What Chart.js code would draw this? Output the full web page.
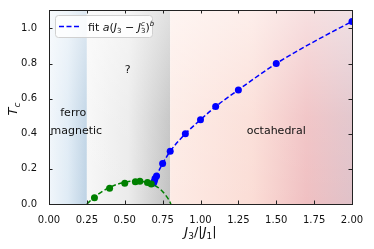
<!DOCTYPE html>
<html>
<head>
<meta charset="utf-8">
<script src="https://cdn.jsdelivr.net/npm/chart.js@4"></script>
<style>
  html, body { margin: 0; padding: 0; background: #fff; }
  canvas { display: block; }
</style>
</head>
<body>
<canvas id="tcChart" width="374" height="249"></canvas>
<script>
// values
const blueX = [0.69, 0.695, 0.70, 0.71, 0.75, 0.80, 0.90, 1.00, 1.10, 1.25, 1.50, 2.00];
const blueY = [0.12, 0.13, 0.145, 0.16, 0.23, 0.30, 0.40, 0.48, 0.555, 0.65, 0.80, 1.04];
const fitX = [0.69, 0.70, 0.72, 0.75, 0.80, 0.90, 1.00, 1.10, 1.25, 1.50, 1.75, 2.00];
const fitY = [0.11, 0.14, 0.18, 0.23, 0.30, 0.40, 0.48, 0.555, 0.65, 0.80, 0.925, 1.04];
const greenX = [0.30, 0.40, 0.50, 0.57, 0.60, 0.65, 0.675];
const greenY = [0.035, 0.09, 0.118, 0.127, 0.13, 0.122, 0.114];
const greenFitX = [0.25, 0.30, 0.35, 0.40, 0.45, 0.50, 0.55, 0.60, 0.65, 0.70, 0.74, 0.77, 0.79, 0.805];
const greenFitY = [0.0, 0.04, 0.07, 0.095, 0.112, 0.123, 0.13, 0.13, 0.122, 0.105, 0.08, 0.05, 0.025, 0.0];
const xTicks = [0, 0.25, 0.5, 0.75, 1.0, 1.25, 1.5, 1.75, 2.0];
const yTicks = [0, 0.2, 0.4, 0.6, 0.8, 1.0];
const regionEdges = [0, 0.25, 0.8, 2.0];   // ferro | ? | octahedral
const regionLabels = [
  { x: 0.16, y: 0.52, text: 'ferro' },
  { x: 0.18, y: 0.417, text: 'magnetic' },
  { x: 0.52, y: 0.76, text: '?' },
  { x: 1.50, y: 0.417, text: 'octahedral' }
];

const toPts = (xs, ys) => xs.map((x, i) => ({ x: x, y: ys[i] }));
const FONT = '"DejaVu Sans", sans-serif';

// background colour regions, drawn under the data
const regionsPlugin = {
  id: 'regions',
  beforeDatasetsDraw(chart) {
    const { ctx, chartArea: a, scales: { x } } = chart;
    const h = a.bottom - a.top;
    const px = regionEdges.map(v => x.getPixelForValue(v));
    ctx.save();

    // ferromagnetic: pale blue
    let g = ctx.createLinearGradient(px[0], 0, px[1], 0);
    g.addColorStop(0, '#f1f6fb');
    g.addColorStop(0.5, '#dfebf5');
    g.addColorStop(1, '#bdd2e4');
    ctx.fillStyle = g;
    ctx.fillRect(px[0], a.top, px[1] - px[0], h);

    // unknown: grey
    g = ctx.createLinearGradient(px[1], 0, px[2], 0);
    g.addColorStop(0, '#f7f7f7');
    g.addColorStop(0.5, '#ebebeb');
    g.addColorStop(1, '#c2c2c2');
    ctx.fillStyle = g;
    ctx.fillRect(px[1], a.top, px[2] - px[1], h);

    // octahedral: pink
    g = ctx.createLinearGradient(px[2], 0, px[3], 0);
    g.addColorStop(0, '#fdebe5');
    g.addColorStop(0.45, '#fbddd6');
    g.addColorStop(0.75, '#f0c0c2');
    g.addColorStop(1, '#e0c2c9');
    ctx.fillStyle = g;
    ctx.fillRect(px[2], a.top, px[3] - px[2], h);

    // lighter toward the top
    g = ctx.createLinearGradient(0, a.top, 0, a.bottom);
    g.addColorStop(0, 'rgba(255,255,255,0.5)');
    g.addColorStop(0.55, 'rgba(255,255,255,0.1)');
    g.addColorStop(1, 'rgba(255,255,255,0)');
    ctx.fillStyle = g;
    ctx.fillRect(px[0], a.top, px[3] - px[0], h);

    // region names
    ctx.fillStyle = '#111';
    ctx.font = '11px ' + FONT;
    ctx.textAlign = 'center';
    ctx.textBaseline = 'middle';
    regionLabels.forEach(l => {
      ctx.fillText(l.text, x.getPixelForValue(l.x), chart.scales.y.getPixelForValue(l.y));
    });
    ctx.restore();
  }
};

// frame, inward ticks, axis titles, legend
const framePlugin = {
  id: 'frame',
  afterDraw(chart) {
    const { ctx, chartArea: a, scales: { x, y } } = chart;
    ctx.save();
    ctx.strokeStyle = '#222';
    ctx.lineWidth = 1;
    ctx.beginPath();
    xTicks.forEach(v => {
      const p = Math.round(x.getPixelForValue(v)) + 0.5;
      ctx.moveTo(p, a.bottom); ctx.lineTo(p, a.bottom - 3.5);
      ctx.moveTo(p, a.top); ctx.lineTo(p, a.top + 3.5);
    });
    yTicks.forEach(v => {
      const p = Math.round(y.getPixelForValue(v)) + 0.5;
      ctx.moveTo(a.left, p); ctx.lineTo(a.left + 3.5, p);
      ctx.moveTo(a.right, p); ctx.lineTo(a.right - 3.5, p);
    });
    ctx.stroke();
    ctx.strokeRect(Math.round(a.left) + 0.5, Math.round(a.top) + 0.5,
      Math.round(a.right - a.left), Math.round(a.bottom - a.top));

    // x axis title: J3/|J1|
    ctx.fillStyle = '#111';
    ctx.textBaseline = 'alphabetic';
    ctx.textAlign = 'left';
    const cx = (a.left + a.right) / 2;
    const base = 236;
    const big = '13px ' + FONT, bigI = 'italic 13px ' + FONT, small = '9px ' + FONT;
    const parts = [[bigI, 'J', 0], [small, '3', 3], [big, '/|', 0], [bigI, 'J', 0], [small, '1', 3], [big, '|', 0]];
    let w = 0;
    parts.forEach(p => { ctx.font = p[0]; w += ctx.measureText(p[1]).width; });
    let cur = cx - w / 2;
    parts.forEach(p => { ctx.font = p[0]; ctx.fillText(p[1], cur, base + p[2]); cur += ctx.measureText(p[1]).width; });

    // y axis title: Tc
    ctx.save();
    ctx.translate(17, (a.top + a.bottom) / 2 + 2);
    ctx.rotate(-Math.PI / 2);
    ctx.font = bigI;
    const tw = ctx.measureText('T').width;
    ctx.font = small;
    const cw = ctx.measureText('c').width;
    ctx.font = bigI;
    ctx.fillText('T', -(tw + cw) / 2, 0);
    ctx.font = 'italic 9px ' + FONT;
    ctx.fillText('c', -(tw + cw) / 2 + tw, 3);
    ctx.restore();

    // legend box
    const lx = a.left + 6, ly = a.top + 5, lw = 97, lh = 22;
    ctx.beginPath();
    ctx.roundRect(lx + 0.5, ly + 0.5, lw, lh, 3);
    ctx.fillStyle = 'rgba(255,255,255,0.8)';
    ctx.fill();
    ctx.strokeStyle = '#d0d0d0';
    ctx.stroke();
    ctx.beginPath();
    ctx.setLineDash([5, 2.5]);
    ctx.strokeStyle = '#0000ff';
    ctx.lineWidth = 1.5;
    ctx.moveTo(lx + 4, ly + 11.5); ctx.lineTo(lx + 26, ly + 11.5);
    ctx.stroke();
    ctx.setLineDash([]);
    ctx.fillStyle = '#111';
    const lb = ly + 15.5;
    const f = '11px ' + FONT, fi = 'italic 11px ' + FONT, s = '7px ' + FONT, si = 'italic 7px ' + FONT;
    cur = lx + 33;
    const draw = (font, t, dy) => { ctx.font = font; ctx.fillText(t, cur, lb + dy); cur += ctx.measureText(t).width; };
    draw(f, 'fit ', 0); draw(fi, 'a', 0); draw(f, '(', 0); draw(fi, 'J', 0); draw(s, '3', 2.5);
    draw(f, ' − ', 0); draw(fi, 'J', 0);
    ctx.font = si; ctx.fillText('c', cur, lb - 4.5);
    draw(s, '3', 2.5);
    draw(f, ')', 0); draw(si, 'b', -5);
    ctx.restore();
  }
};

new Chart(document.getElementById('tcChart'), {
  type: 'scatter',
  data: {
    datasets: [
      {
        data: toPts(greenFitX, greenFitY),
        showLine: true,
        borderColor: '#008000',
        borderWidth: 1.5,
        borderDash: [5, 2.5],
        cubicInterpolationMode: 'monotone',
        pointRadius: 0
      },
      {
        data: toPts(greenX, greenY),
        backgroundColor: '#008000',
        borderColor: '#008000',
        pointRadius: 3.5,
        borderWidth: 0
      },
      {
        data: toPts(fitX, fitY),
        showLine: true,
        borderColor: '#0000ff',
        borderWidth: 1.5,
        borderDash: [5, 2.5],
        cubicInterpolationMode: 'monotone',
        pointRadius: 0
      },
      {
        data: toPts(blueX, blueY),
        backgroundColor: '#0000ff',
        borderColor: '#0000ff',
        pointRadius: 3.5,
        borderWidth: 0
      }
    ]
  },
  options: {
    responsive: false,
    animation: false,
    devicePixelRatio: 1,
    layout: { padding: { top: 10, right: 22, left: 0, bottom: 0 } },
    plugins: {
      legend: { display: false },
      tooltip: { enabled: false }
    },
    scales: {
      x: {
        type: 'linear',
        min: 0,
        max: 2,
        afterBuildTicks: s => { s.ticks = xTicks.map(v => ({ value: v })); },
        afterFit: s => { s.height = 45; },
        grid: { display: false },
        border: { display: false },
        ticks: {
          padding: 2,
          color: '#111',
          font: { family: FONT, size: 10 },
          maxRotation: 0,
          autoSkip: false,
          callback: v => v.toFixed(2)
        }
      },
      y: {
        type: 'linear',
        min: 0,
        max: 1.105,
        afterBuildTicks: s => { s.ticks = yTicks.map(v => ({ value: v })); },
        afterFit: s => { s.width = 49; },
        grid: { display: false },
        border: { display: false },
        ticks: {
          padding: 4,
          color: '#111',
          font: { family: FONT, size: 10 },
          autoSkip: false,
          callback: v => v.toFixed(1)
        }
      }
    }
  },
  plugins: [regionsPlugin, framePlugin]
});
</script>
</body>
</html>
